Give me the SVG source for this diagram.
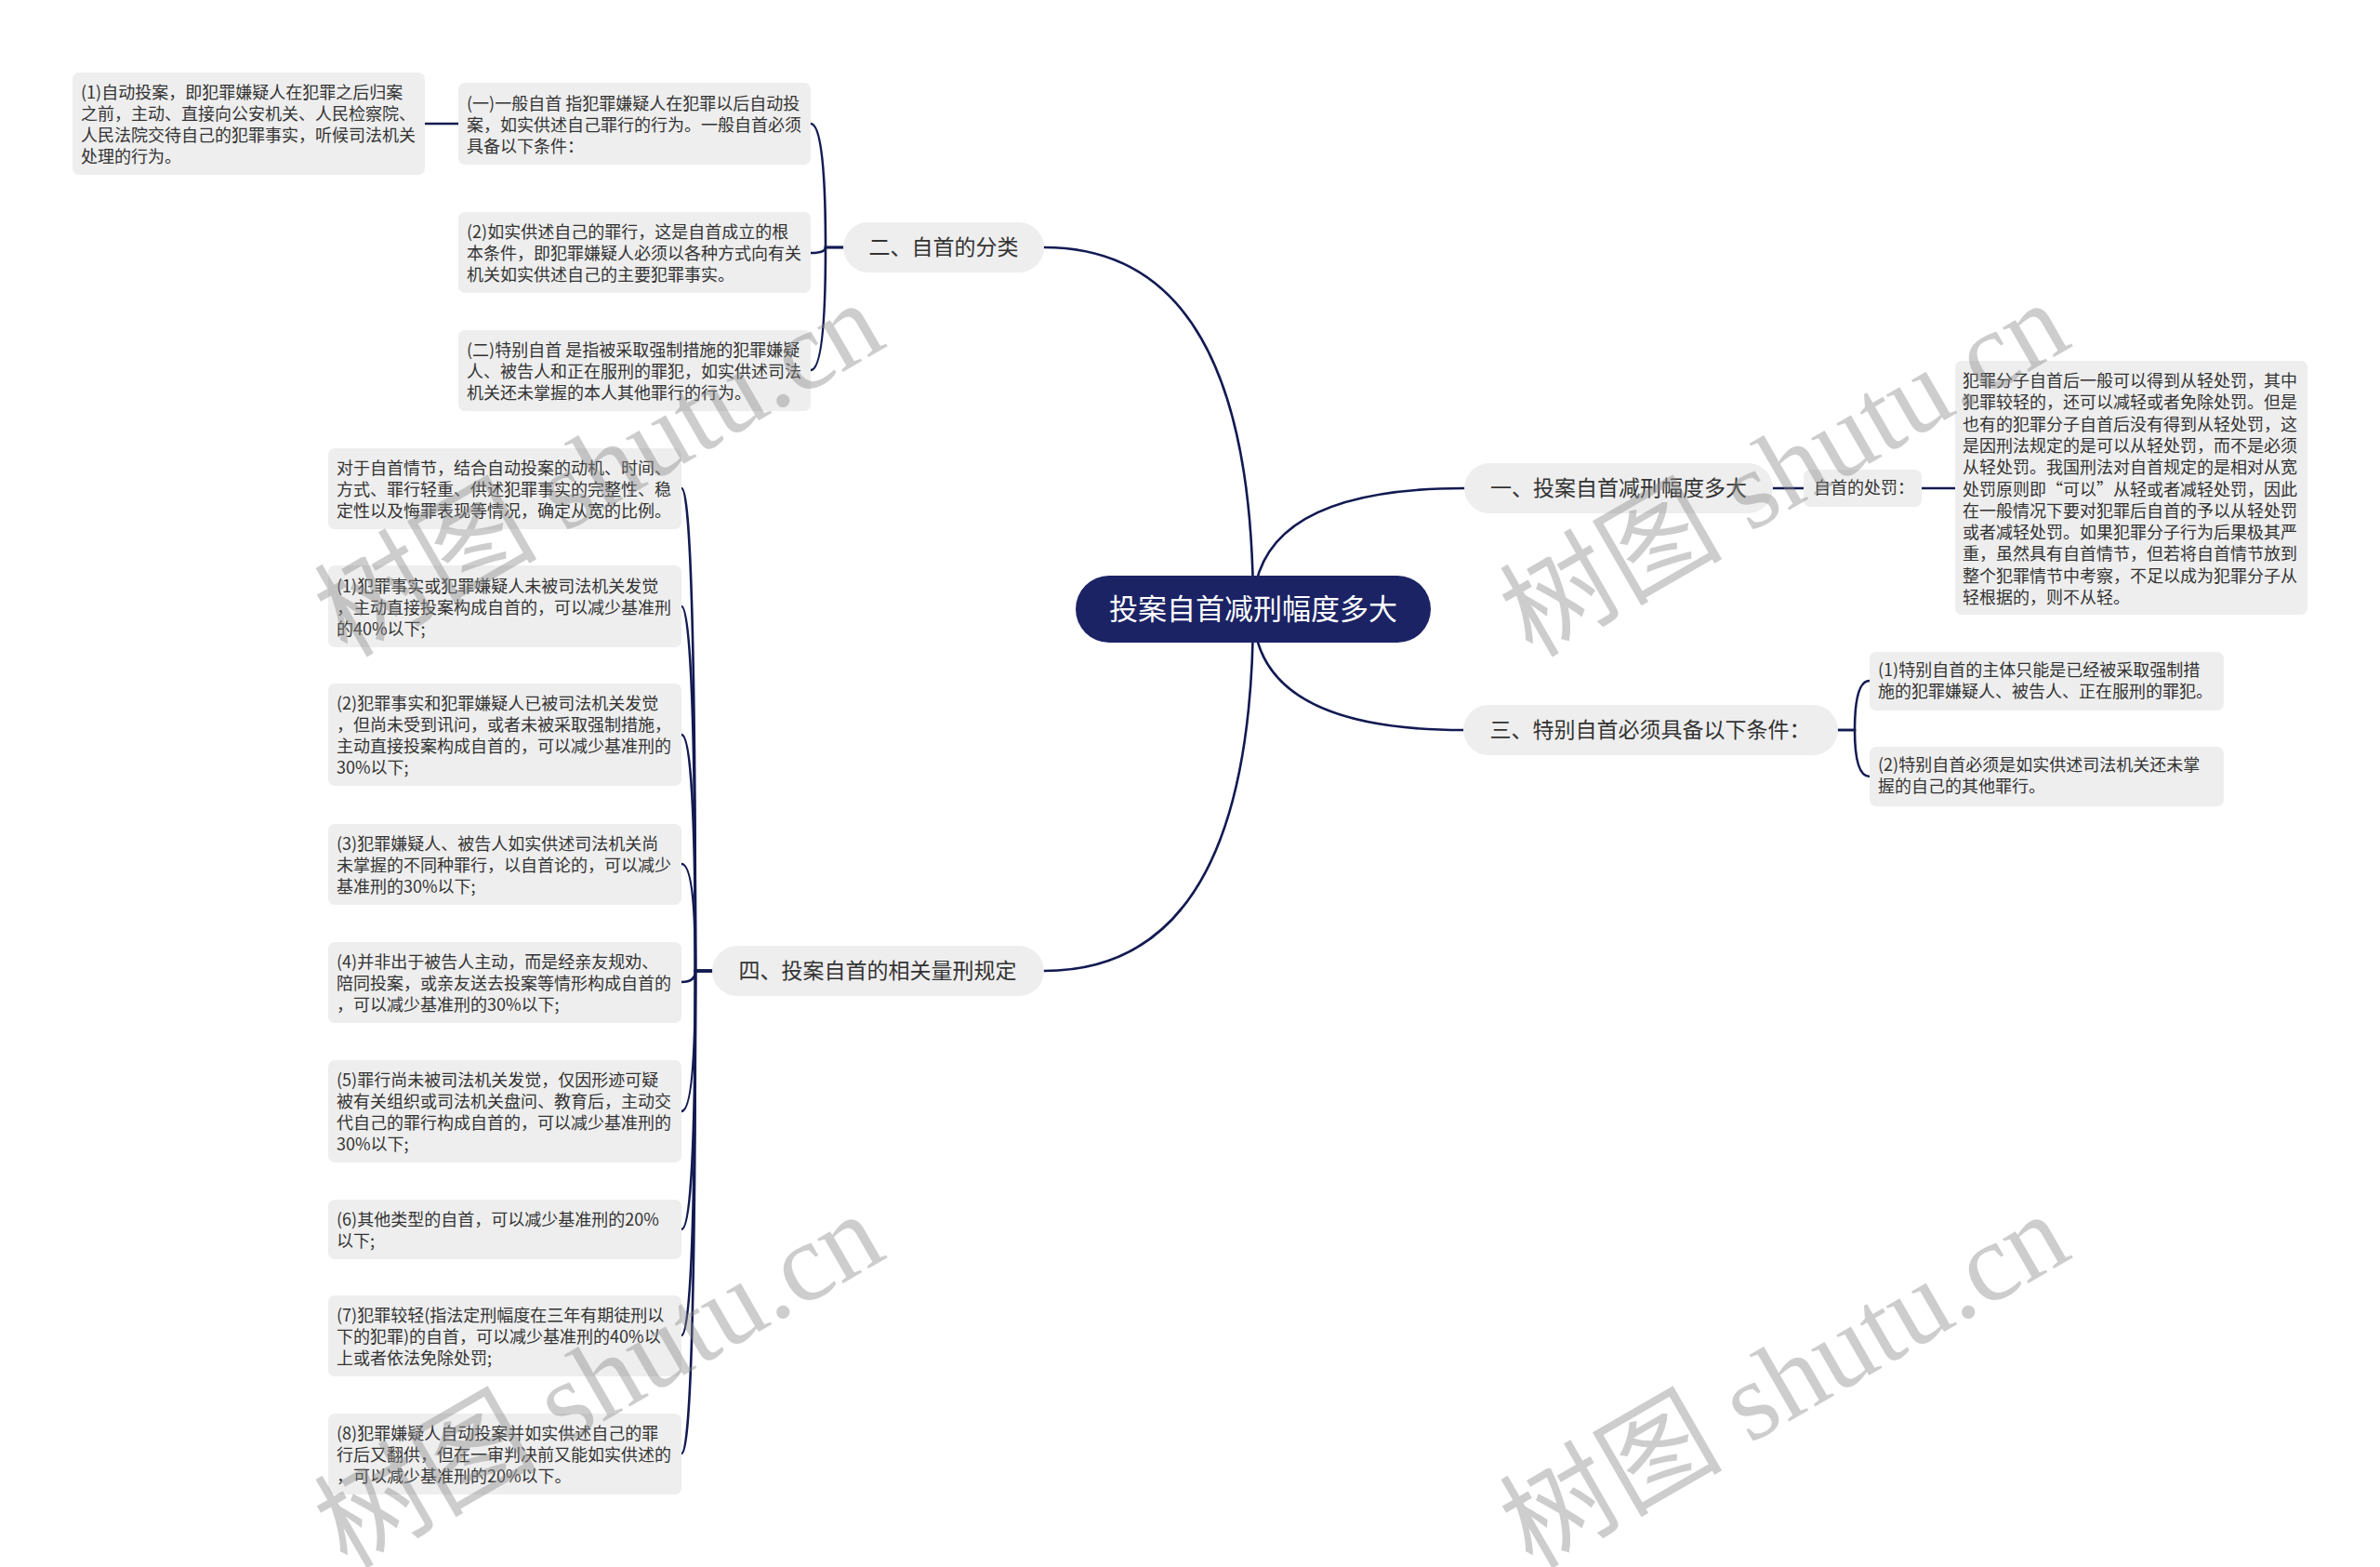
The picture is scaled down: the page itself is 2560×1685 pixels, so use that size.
<svg xmlns="http://www.w3.org/2000/svg" width="2560" height="1685" viewBox="0 0 2560 1685">
<style>
.bg{fill:#ffffff}
.box{fill:#eeeeee}
.t{font-family:"Noto Sans CJK SC","Noto Sans",sans-serif;font-size:18px;fill:#333333}
.bt{font-family:"Noto Sans CJK SC","Noto Sans",sans-serif;font-size:23px;fill:#333333;text-anchor:middle}
.rt{font-family:"Noto Sans CJK SC","Noto Sans",sans-serif;font-size:31px;fill:#ffffff;text-anchor:middle}
.c{fill:none;stroke:#121a52;stroke-width:2.6;stroke-linecap:round}
.wm{font-family:"Liberation Serif","Noto Sans CJK SC",serif;font-size:120px;fill:#8a8a8a;opacity:0.42}
</style>
<rect class="bg" x="0" y="0" width="2560" height="1685"/>
<g id="connectors">
<path class="c" d="M1348 655 Q1348 266 1123 266"/>
<path class="c" d="M1348 655 Q1348 525 1575 525"/>
<path class="c" d="M1348 655 Q1348 785 1574 785"/>
<path class="c" d="M1348 655 Q1348 1044 1123 1044"/>
<path class="c" d="M907 266 L888 266 Q888 133 872 133"/>
<path class="c" d="M907 266 L888 266 Q888 272 872 272"/>
<path class="c" d="M907 266 L888 266 Q888 398 872 398"/>
<path class="c" d="M493 133 L457 133"/>
<path class="c" d="M1907 525 L1940 525"/>
<path class="c" d="M2067 525 L2103 525"/>
<path class="c" d="M1977 785 L1995 785 Q1995 732 2011 732"/>
<path class="c" d="M1977 785 L1995 785 Q1995 835 2011 835"/>
<path class="c" d="M766 1044 L748 1044 Q748 525 733 525"/>
<path class="c" d="M766 1044 L748 1044 Q748 652 733 652"/>
<path class="c" d="M766 1044 L748 1044 Q748 790 733 790"/>
<path class="c" d="M766 1044 L748 1044 Q748 929 733 929"/>
<path class="c" d="M766 1044 L748 1044 Q748 1056 733 1056"/>
<path class="c" d="M766 1044 L748 1044 Q748 1195 733 1195"/>
<path class="c" d="M766 1044 L748 1044 Q748 1322 733 1322"/>
<path class="c" d="M766 1044 L748 1044 Q748 1436 733 1436"/>
<path class="c" d="M766 1044 L748 1044 Q748 1563 733 1563"/>
</g>
<g id="root">
<rect x="1157" y="619" width="382" height="72" rx="36" fill="#1b2365"/>
<text class="rt" x="1348" y="666">投案自首减刑幅度多大</text>
</g>
<g id="b2">
<rect class="box" x="907" y="239" width="216" height="54" rx="27"/>
<text class="bt" x="1015" y="274">二、自首的分类</text>
</g>
<g id="b1">
<rect class="box" x="1575" y="498" width="332" height="54" rx="27"/>
<text class="bt" x="1741" y="533">一、投案自首减刑幅度多大</text>
</g>
<g id="b3">
<rect class="box" x="1574" y="758" width="403" height="54" rx="27"/>
<text class="bt" x="1775" y="793">三、特别自首必须具备以下条件：</text>
</g>
<g id="b4">
<rect class="box" x="766" y="1017" width="357" height="54" rx="27"/>
<text class="bt" x="944" y="1052">四、投案自首的相关量刑规定</text>
</g>
<g id="n2a">
<rect class="box" x="493" y="89" width="379" height="88" rx="7"/>
<text class="t"><tspan x="502" y="118">(一)一般自首 指犯罪嫌疑人在犯罪以后自动投</tspan><tspan x="502" y="141">案，如实供述自己罪行的行为。一般自首必须</tspan><tspan x="502" y="164">具备以下条件：</tspan></text>
</g>
<g id="n2a1">
<rect class="box" x="78" y="78" width="379" height="110" rx="7"/>
<text class="t"><tspan x="87" y="106">(1)自动投案，即犯罪嫌疑人在犯罪之后归案</tspan><tspan x="87" y="129">之前，主动、直接向公安机关、人民检察院、</tspan><tspan x="87" y="152">人民法院交待自己的犯罪事实，听候司法机关</tspan><tspan x="87" y="175">处理的行为。</tspan></text>
</g>
<g id="n2b">
<rect class="box" x="493" y="228" width="379" height="87" rx="7"/>
<text class="t"><tspan x="502" y="256">(2)如实供述自己的罪行，这是自首成立的根</tspan><tspan x="502" y="279">本条件，即犯罪嫌疑人必须以各种方式向有关</tspan><tspan x="502" y="302">机关如实供述自己的主要犯罪事实。</tspan></text>
</g>
<g id="n2c">
<rect class="box" x="493" y="355" width="379" height="87" rx="7"/>
<text class="t"><tspan x="502" y="383">(二)特别自首 是指被采取强制措施的犯罪嫌疑</tspan><tspan x="502" y="406">人、被告人和正在服刑的罪犯，如实供述司法</tspan><tspan x="502" y="429">机关还未掌握的本人其他罪行的行为。</tspan></text>
</g>
<g id="n1a">
<rect class="box" x="1940" y="505" width="127" height="40" rx="7"/>
<text class="t"><tspan x="1951" y="531">自首的处罚：</tspan></text>
</g>
<g id="n1b">
<rect class="box" x="2103" y="388" width="379" height="273" rx="7"/>
<text class="t"><tspan x="2111" y="416">犯罪分子自首后一般可以得到从轻处罚，其中</tspan><tspan x="2111" y="439.3">犯罪较轻的，还可以减轻或者免除处罚。但是</tspan><tspan x="2111" y="462.6">也有的犯罪分子自首后没有得到从轻处罚，这</tspan><tspan x="2111" y="485.9">是因刑法规定的是可以从轻处罚，而不是必须</tspan><tspan x="2111" y="509.2">从轻处罚。我国刑法对自首规定的是相对从宽</tspan><tspan x="2111" y="532.5">处罚原则即“可以”从轻或者减轻处罚，因此</tspan><tspan x="2111" y="555.8">在一般情况下要对犯罪后自首的予以从轻处罚</tspan><tspan x="2111" y="579.1">或者减轻处罚。如果犯罪分子行为后果极其严</tspan><tspan x="2111" y="602.4">重，虽然具有自首情节，但若将自首情节放到</tspan><tspan x="2111" y="625.7">整个犯罪情节中考察，不足以成为犯罪分子从</tspan><tspan x="2111" y="649">轻根据的，则不从轻。</tspan></text>
</g>
<g id="n3a">
<rect class="box" x="2011" y="701" width="381" height="63" rx="7"/>
<text class="t"><tspan x="2020" y="727">(1)特别自首的主体只能是已经被采取强制措</tspan><tspan x="2020" y="750">施的犯罪嫌疑人、被告人、正在服刑的罪犯。</tspan></text>
</g>
<g id="n3b">
<rect class="box" x="2011" y="803" width="381" height="64" rx="7"/>
<text class="t"><tspan x="2020" y="829">(2)特别自首必须是如实供述司法机关还未掌</tspan><tspan x="2020" y="852">握的自己的其他罪行。</tspan></text>
</g>
<g id="n4a">
<rect class="box" x="353" y="482" width="380" height="87" rx="7"/>
<text class="t"><tspan x="362" y="510">对于自首情节，结合自动投案的动机、时间、</tspan><tspan x="362" y="533">方式、罪行轻重、供述犯罪事实的完整性、稳</tspan><tspan x="362" y="556">定性以及悔罪表现等情况，确定从宽的比例。</tspan></text>
</g>
<g id="n4b">
<rect class="box" x="353" y="608" width="380" height="88" rx="7"/>
<text class="t"><tspan x="362" y="637">(1)犯罪事实或犯罪嫌疑人未被司法机关发觉</tspan><tspan x="362" y="660">，主动直接投案构成自首的，可以减少基准刑</tspan><tspan x="362" y="683">的40%以下;</tspan></text>
</g>
<g id="n4c">
<rect class="box" x="353" y="735" width="380" height="110" rx="7"/>
<text class="t"><tspan x="362" y="763">(2)犯罪事实和犯罪嫌疑人已被司法机关发觉</tspan><tspan x="362" y="786">，但尚未受到讯问，或者未被采取强制措施，</tspan><tspan x="362" y="809">主动直接投案构成自首的，可以减少基准刑的</tspan><tspan x="362" y="832">30%以下;</tspan></text>
</g>
<g id="n4d">
<rect class="box" x="353" y="886" width="380" height="87" rx="7"/>
<text class="t"><tspan x="362" y="914">(3)犯罪嫌疑人、被告人如实供述司法机关尚</tspan><tspan x="362" y="937">未掌握的不同种罪行，以自首论的，可以减少</tspan><tspan x="362" y="960">基准刑的30%以下;</tspan></text>
</g>
<g id="n4e">
<rect class="box" x="353" y="1013" width="380" height="87" rx="7"/>
<text class="t"><tspan x="362" y="1041">(4)并非出于被告人主动，而是经亲友规劝、</tspan><tspan x="362" y="1064">陪同投案，或亲友送去投案等情形构成自首的</tspan><tspan x="362" y="1087">，可以减少基准刑的30%以下;</tspan></text>
</g>
<g id="n4f">
<rect class="box" x="353" y="1140" width="380" height="110" rx="7"/>
<text class="t"><tspan x="362" y="1168">(5)罪行尚未被司法机关发觉，仅因形迹可疑</tspan><tspan x="362" y="1191">被有关组织或司法机关盘问、教育后，主动交</tspan><tspan x="362" y="1214">代自己的罪行构成自首的，可以减少基准刑的</tspan><tspan x="362" y="1237">30%以下;</tspan></text>
</g>
<g id="n4g">
<rect class="box" x="353" y="1290" width="380" height="64" rx="7"/>
<text class="t"><tspan x="362" y="1318">(6)其他类型的自首，可以减少基准刑的20%</tspan><tspan x="362" y="1341">以下;</tspan></text>
</g>
<g id="n4h">
<rect class="box" x="353" y="1393" width="380" height="87" rx="7"/>
<text class="t"><tspan x="362" y="1421">(7)犯罪较轻(指法定刑幅度在三年有期徒刑以</tspan><tspan x="362" y="1444">下的犯罪)的自首，可以减少基准刑的40%以</tspan><tspan x="362" y="1467">上或者依法免除处罚;</tspan></text>
</g>
<g id="n4i">
<rect class="box" x="353" y="1520" width="380" height="87" rx="7"/>
<text class="t"><tspan x="362" y="1548">(8)犯罪嫌疑人自动投案并如实供述自己的罪</tspan><tspan x="362" y="1571">行后又翻供，但在一审判决前又能如实供述的</tspan><tspan x="362" y="1594">，可以减少基准刑的20%以下。</tspan></text>
</g>
<g id="watermarks">
<text class="wm" transform="translate(373 708) rotate(-30)">树图 shutu.cn</text>
<text class="wm" transform="translate(1648 708) rotate(-30)">树图 shutu.cn</text>
<text class="wm" transform="translate(373 1688) rotate(-30)">树图 shutu.cn</text>
<text class="wm" transform="translate(1648 1688) rotate(-30)">树图 shutu.cn</text>
</g>
</svg>
